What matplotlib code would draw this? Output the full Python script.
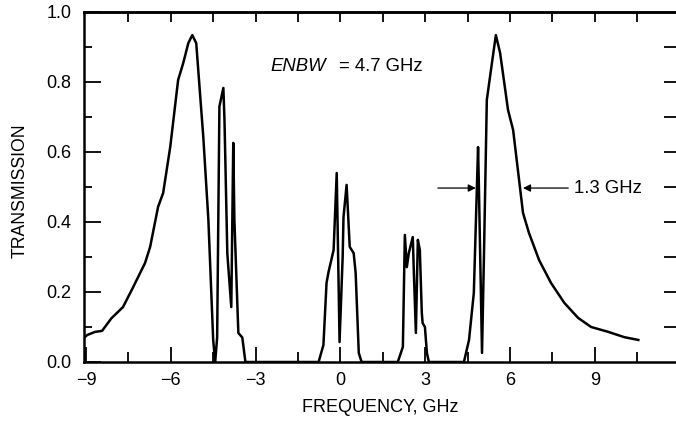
import matplotlib
matplotlib.use("Agg")
import matplotlib.pyplot as plt
import numpy as np

# ---- data ----
freq = [-9.07, -8.96, -8.68, -8.43, -8.1, -7.69, -7.33, -6.91, -6.73, -6.45,
        -6.27, -6.02, -5.74, -5.56, -5.38, -5.24, -5.10, -4.85, -4.67, -4.50,
        -4.43, -4.36, -4.28, -4.14, -4.10, -4.00, -3.86, -3.79, -3.75, -3.61,
        -3.47, -3.36, -0.77, -0.60, -0.49, -0.42, -0.24, -0.13, -0.06, -0.03,
        0.08, 0.11, 0.22, 0.33, 0.47, 0.54, 0.65, 0.75, 2.03, 2.21,
        2.28, 2.35, 2.42, 2.56, 2.60, 2.67, 2.74, 2.81, 2.88, 2.91,
        2.99, 3.06, 3.13, 4.37, 4.55, 4.72, 4.87, 4.90, 5.01, 5.08,
        5.18, 5.36, 5.50, 5.65, 5.93, 6.11, 6.46, 6.67, 7.03, 7.45,
        7.92, 8.41, 8.87, 9.48, 10.04, 10.54]
trans = [0.069, 0.077, 0.086, 0.089, 0.125, 0.157, 0.214, 0.283, 0.329, 0.443,
         0.483, 0.614, 0.806, 0.854, 0.911, 0.934, 0.911, 0.643, 0.406, 0.063,
         0.0, 0.07, 0.73, 0.783, 0.69, 0.31, 0.157, 0.626, 0.406, 0.083,
         0.07, 0.0, 0.0, 0.049, 0.226, 0.257, 0.32, 0.54, 0.206, 0.057,
         0.30, 0.414, 0.506, 0.329, 0.311, 0.254, 0.026, 0.0, 0.0, 0.043,
         0.363, 0.271, 0.311, 0.357, 0.254, 0.083, 0.349, 0.32, 0.14, 0.111,
         0.1, 0.026, 0.0, 0.0, 0.063, 0.197, 0.614, 0.5, 0.026, 0.31,
         0.749, 0.854, 0.934, 0.883, 0.72, 0.663, 0.426, 0.369, 0.291, 0.226,
         0.169, 0.126, 0.1, 0.086, 0.071, 0.063]

x_major_ticks = [-9, -6, -3, 0, 3, 6, 9]
x_tick_labels = ["\u22129", "\u22126", "\u22123", "0", "3", "6", "9"]
x_minor_ticks = [-7.5, -4.5, -1.5, 1.5, 4.5, 7.5, 10.5]
x_top_ticks = [-7.5, -6, -4.5, -3, -1.5, 0, 1.5, 3, 4.5, 6, 7.5, 9, 10.5]
y_major_ticks = [0.0, 0.2, 0.4, 0.6, 0.8, 1.0]
y_tick_labels = ["0.0", "0.2", "0.4", "0.6", "0.8", "1.0"]
y_minor_ticks = [0.1, 0.3, 0.5, 0.7, 0.9]
y_right_ticks = [0.1, 0.2, 0.3, 0.4, 0.5, 0.6, 0.7, 0.8, 0.9]

enbw_label = "ENBW"
enbw_value = "= 4.7 GHz"
width_label = "1.3 GHz"
width_left = 4.79
width_right = 6.46
width_level = 0.497

plt.rcParams['font.family'] = ['Liberation Sans', 'DejaVu Sans']

fig = plt.figure(figsize=(6.76, 4.24), dpi=100)
ax = fig.add_axes([84/676, 62/424, 1.0 - 84/676 + 0.002, 350/424])

ax.plot(freq, trans, color='black', lw=1.8, solid_joinstyle='round')
ax.set_xlim(-9.07, 11.92)
ax.set_ylim(0, 1.0)

for s in ['left', 'bottom', 'top']:
    ax.spines[s].set_linewidth(1.8)
ax.spines['right'].set_visible(False)

ax.set_xticks(x_major_ticks)
ax.set_xticklabels(x_tick_labels)
ax.set_xticks(x_minor_ticks, minor=True)
ax.set_yticks(y_major_ticks)
ax.set_yticklabels(y_tick_labels)
ax.set_yticks(y_minor_ticks, minor=True)

ax.tick_params(axis='x', which='major', direction='in', length=11, width=1.3,
               labelsize=13, pad=7, top=False)
ax.tick_params(axis='x', which='minor', direction='in', length=7, width=1.3,
               top=False)
ax.tick_params(axis='y', which='major', direction='in', length=12.5, width=1.3,
               labelsize=13, pad=9, right=False)
ax.tick_params(axis='y', which='minor', direction='in', length=6, width=1.3,
               right=False)

# top ticks
axt = ax.secondary_xaxis('top')
axt.set_xticks(x_top_ticks)
axt.tick_params(direction='in', length=7.5, width=1.3, labeltop=False)
axt.spines['top'].set_linewidth(1.8)
# right ticks
axr = ax.secondary_yaxis('right')
axr.set_yticks(y_right_ticks)
axr.tick_params(direction='in', length=9.5, width=1.3, labelright=False)
axr.spines['right'].set_visible(False)

ax.set_xlabel("FREQUENCY, GHz", fontsize=13)
ax.xaxis.set_label_coords(0.5, -0.131)
ax.xaxis.label.set_va('center')
ax.set_ylabel("TRANSMISSION", fontsize=12.7)
ax.yaxis.set_label_coords(-0.108, 0.49)
ax.yaxis.label.set_va('center')

ax.text(-0.52, 0.843, enbw_label, fontsize=13.3, style='italic',
        ha='right', va='center')
ax.text(-0.06, 0.843, enbw_value, fontsize=13.3, ha='left', va='center')

ax.annotate("", xy=(width_left, width_level), xytext=(3.45, width_level),
            arrowprops=dict(arrowstyle='-|>', color='black', lw=0.9,
                            mutation_scale=11, shrinkA=0, shrinkB=0))
ax.annotate("", xy=(width_right, width_level), xytext=(8.06, width_level),
            arrowprops=dict(arrowstyle='-|>', color='black', lw=0.9,
                            mutation_scale=11, shrinkA=0, shrinkB=0))
ax.text(8.27, width_level, width_label, fontsize=13.3, ha='left', va='center')

fig.savefig("out.png", dpi=100)
